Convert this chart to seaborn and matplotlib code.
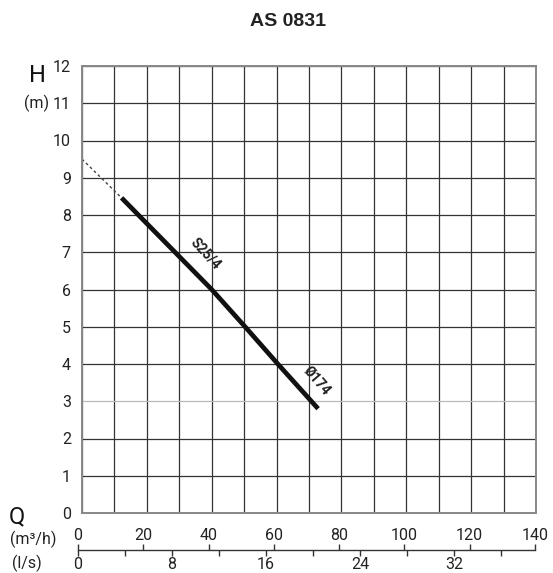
import numpy as np
import pandas as pd
import matplotlib
matplotlib.use('Agg')
import matplotlib.pyplot as plt
import seaborn as sns

# pump curve S25/4
q_curve = [12.2, 28.7, 40.0, 50.8, 60.4, 72.8]   # m3/h
h_curve = [8.46, 7.0, 6.0, 4.95, 4.0, 2.8]       # m
# dotted extension towards Q = 0
q_ext = [0.0, 12.2]
h_ext = [9.5, 8.46]

q_ticks = [0, 20, 40, 60, 80, 100, 120, 140]
ls_ticks = [0, 8, 16, 24, 32]
ls_minor = [4, 12, 20, 28, 36]
h_ticks = list(range(0, 13))

title = 'AS 0831'
curve_label = 'S25/4'
dia_label = 'Ø174'

sns.set_style('white')
plt.rcParams['font.family'] = ['Roboto', 'DejaVu Sans']

W, H = 553, 573
fig = plt.figure(figsize=(W / 100, H / 100), dpi=100)

def box(l, t, r, b):
    return [l / W, 1 - b / H, (r - l) / W, (b - t) / H]

ax = fig.add_axes(box(82, 66, 536, 513))

df = pd.DataFrame({'Q': q_curve, 'H': h_curve})
sns.lineplot(data=df, x='Q', y='H', ax=ax, color='#111111', lw=3.4,
             sort=False, solid_capstyle='butt', solid_joinstyle='round')
ax.plot(q_ext, h_ext, color='#444444', lw=1.0, ls=(0, (2, 2)))

ax.set_xlim(0, 140)
ax.set_ylim(0, 12)
ax.set_xticks(np.arange(0, 141, 10))
ax.set_yticks(h_ticks)
ax.set_xticklabels([])
ax.set_yticklabels([str(v) for v in h_ticks])
ax.tick_params(axis='both', length=0)
ax.tick_params(axis='y', pad=8, labelsize=11.5, colors='#222222')
ax.grid(True, color='#333333', lw=0.9)
ax.set_axisbelow(True)
for g in ax.get_ygridlines()[3:4]:
    g.set_color('#bbbbbb')
for s in ax.spines.values():
    s.set_color('#888888')
    s.set_linewidth(1.4)
ax.set_xlabel('')
ax.set_ylabel('')

ax.text(38.0, 6.95, curve_label, rotation=-47, ha='center', va='center',
        fontsize=10, fontweight='bold', color='#222222')
ax.text(72.5, 3.55, dia_label, rotation=-49, ha='center', va='center',
        fontsize=10, fontweight='bold', color='#222222')

# bottom double scale
ax2 = fig.add_axes(box(78, 549.5, 535, 550))
ax2.set_xlim(0, 140)
ax2.set_ylim(0, 1)
ax2.set_yticks([])
for k in ['left', 'right', 'bottom']:
    ax2.spines[k].set_visible(False)
ax2.spines['top'].set_color('#333333')
ax2.spines['top'].set_linewidth(1.0)
ax2.xaxis.tick_top()
ax2.set_xticks(q_ticks)
ax2.set_xticklabels([str(v) for v in q_ticks])
ax2.tick_params(axis='x', direction='out', length=4, width=1, color='#333333',
                labelsize=11.5, labelcolor='#222222', pad=1)
ax2.patch.set_alpha(0)

sec = ax2.secondary_xaxis('bottom', functions=(lambda q: q / 3.6, lambda l: l * 3.6))
sec.set_xticks(ls_ticks)
sec.set_xticklabels([str(v) for v in ls_ticks])
sec.set_xticks(ls_minor, minor=True)
sec.tick_params(axis='x', which='both', direction='out', length=4, width=1,
                color='#333333', labelsize=11.5, labelcolor='#222222', pad=1)
sec.spines['bottom'].set_visible(False)

fig.text(288 / W, 1 - 22 / H, title, ha='center', va='center', fontsize=14,
         fontweight='bold', family=['Liberation Sans', 'DejaVu Sans'], color='#222222')
fig.text(37 / W, 1 - 75 / H, 'H', ha='center', va='center', fontsize=17, color='#111111')
fig.text(37 / W, 1 - 103 / H, '(m)', ha='center', va='center', fontsize=11.5, color='#222222')
fig.text(17 / W, 1 - 517 / H, 'Q', ha='center', va='center', fontsize=17, color='#111111')
fig.text(33 / W, 1 - 539 / H, '(m³/h)', ha='center', va='center', fontsize=11.5, color='#222222')
fig.text(27 / W, 1 - 563 / H, '(l/s)', ha='center', va='center', fontsize=11.5, color='#222222')

fig.savefig('out.png', dpi=100)
